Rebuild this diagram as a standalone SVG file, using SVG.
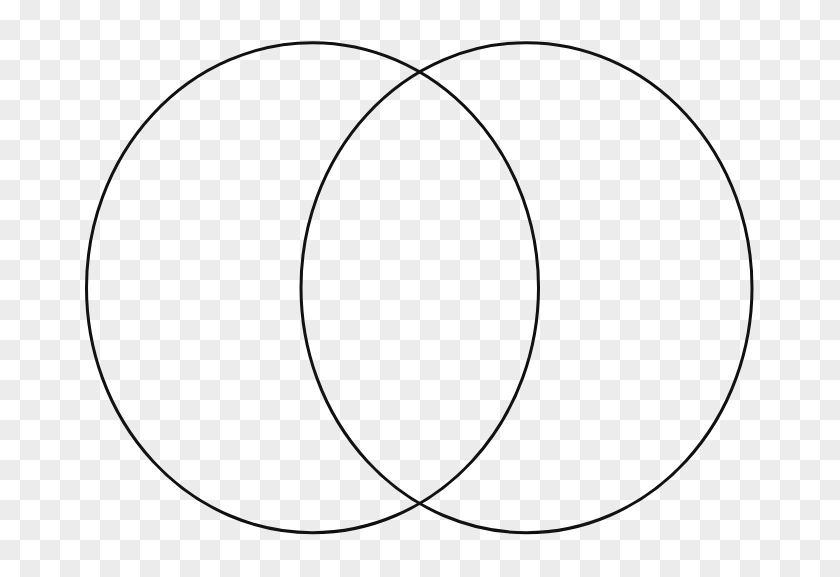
<svg xmlns="http://www.w3.org/2000/svg" width="840" height="577" viewBox="0 0 840 577">
  <style>
    .ring { fill: none; stroke: #111; stroke-width: 3; }
  </style>
  <defs>
    <pattern id="checker" x="0" y="0" width="40" height="40" patternUnits="userSpaceOnUse">
      <rect x="0" y="0" width="40" height="40" fill="#ffffff"/>
      <rect x="20" y="0" width="20" height="20" fill="#ececec"/>
      <rect x="0" y="20" width="20" height="20" fill="#ececec"/>
    </pattern>
  </defs>
  <rect x="0" y="0" width="840" height="577" fill="url(#checker)"/>
  <g id="left-circle">
    <ellipse class="ring" cx="312.5" cy="287.7" rx="226" ry="245"/>
  </g>
  <g id="right-circle">
    <ellipse class="ring" cx="526.5" cy="287.7" rx="225.5" ry="245"/>
  </g>
  <g id="connectors"></g>
</svg>
